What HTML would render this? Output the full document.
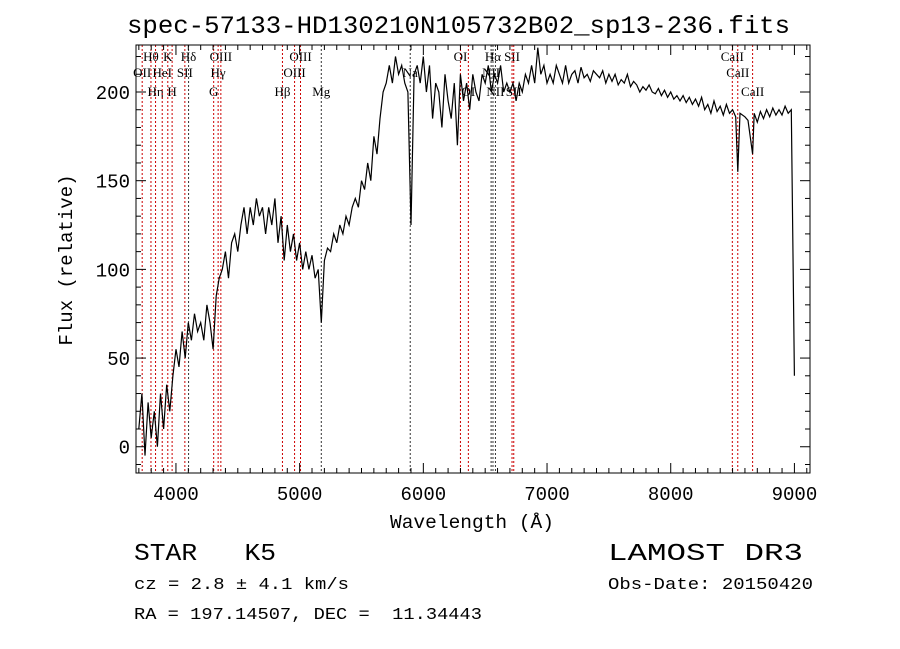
<!DOCTYPE html>
<html><head><meta charset="utf-8"><style>
body{margin:0;background:#fff;}
svg{display:block;}
.ax{font-family:"Liberation Mono",monospace;font-size:19px;fill:#000;}
.ll{font-family:"Liberation Serif",serif;font-size:13px;fill:#000;}
</style></head><body>
<svg id="c" width="900" height="649" viewBox="0 0 900 649">
<text x="127" y="33" textLength="663" lengthAdjust="spacingAndGlyphs" class="ax" style="font-size:25px">spec-57133-HD130210N105732B02_sp13-236.fits</text>
<g id="lines"></g>
<g id="spec"></g>
<rect x="136" y="45" width="674" height="428" fill="none" stroke="#000" stroke-width="1"/>
<g id="axes"></g>
<text x="390" y="528" textLength="164" lengthAdjust="spacingAndGlyphs" class="ax">Wavelength (Å)</text>
<text transform="translate(72,260) rotate(-90)" text-anchor="middle" class="ax">Flux (relative)</text>
<text x="134" y="560" textLength="142" lengthAdjust="spacingAndGlyphs" class="ax" style="font-size:24px" xml:space="preserve">STAR   K5</text>
<text x="608" y="560" textLength="195" lengthAdjust="spacingAndGlyphs" class="ax" style="font-size:24px">LAMOST DR3</text>
<text x="134" y="589" textLength="215" lengthAdjust="spacingAndGlyphs" class="ax" style="font-size:17px">cz = 2.8 ± 4.1 km/s</text>
<text x="608" y="589" textLength="205" lengthAdjust="spacingAndGlyphs" class="ax" style="font-size:17px">Obs-Date: 20150420</text>
<text x="134" y="619" textLength="348" lengthAdjust="spacingAndGlyphs" class="ax" style="font-size:17px" xml:space="preserve">RA = 197.14507, DEC =  11.34443</text>
</svg>
<script>
const wavelengths=[3700,3725,3750,3775,3800,3825,3850,3875,3900,3925,3950,3975,4000,4025,4050,4075,4100,4125,4150,4175,4200,4225,4250,4275,4300,4325,4350,4375,4400,4425,4450,4475,4500,4525,4550,4575,4600,4625,4650,4675,4700,4725,4750,4775,4800,4825,4850,4875,4900,4925,4950,4975,5000,5025,5050,5075,5100,5125,5150,5175,5200,5225,5250,5275,5300,5325,5350,5375,5400,5425,5450,5475,5500,5525,5550,5575,5600,5625,5650,5675,5700,5725,5750,5775,5800,5825,5850,5875,5900,5925,5950,5975,6000,6025,6050,6075,6100,6125,6150,6175,6200,6225,6250,6275,6300,6325,6350,6375,6400,6425,6450,6475,6500,6525,6550,6575,6600,6625,6650,6675,6700,6725,6750,6775,6800,6825,6850,6875,6900,6925,6950,6975,7000,7025,7050,7075,7100,7125,7150,7175,7200,7225,7250,7275,7300,7325,7350,7375,7400,7425,7450,7475,7500,7525,7550,7575,7600,7625,7650,7675,7700,7725,7750,7775,7800,7825,7850,7875,7900,7925,7950,7975,8000,8025,8050,8075,8100,8125,8150,8175,8200,8225,8250,8275,8300,8325,8350,8375,8400,8425,8450,8475,8500,8525,8542,8560,8600,8625,8662,8675,8700,8725,8750,8775,8800,8825,8850,8875,8900,8925,8950,8975,9000];
const fluxes=[10,30,-5,25,5,20,0,30,10,35,20,40,55,45,65,50,70,60,75,65,70,60,80,70,55,85,95,100,110,95,115,120,110,125,135,120,135,125,140,130,135,120,135,125,140,115,130,105,125,110,120,105,115,100,110,100,108,95,100,70,105,112,110,120,115,125,120,130,125,135,140,135,150,145,160,150,175,165,185,200,205,215,205,220,210,215,205,200,125,210,215,205,220,200,215,185,205,200,180,210,195,185,205,170,210,195,205,190,210,200,195,210,205,215,200,210,205,215,200,205,200,205,195,205,200,210,205,215,205,225,210,215,205,210,205,215,210,205,215,205,210,212,205,214,208,210,206,212,210,208,212,205,210,206,210,204,207,205,210,203,206,204,200,203,201,204,200,199,202,198,201,197,200,196,198,195,198,194,197,193,196,192,197,190,193,188,195,189,192,187,193,188,190,186,155,188,186,184,165,188,183,189,185,190,186,191,187,190,187,192,188,190,40];
const xTicks=[4000,5000,6000,7000,8000,9000];
const yTicks=[0,50,100,150,200];
const lineWaves=[3727,3798,3835,3889,3934,3969,4072,4102,4305,4341,4363,4861,4959,5007,5175,5894,6300,6364,6548,6563,6583,6717,6731,8498,8542,8662];
const lineLabels=["OII","Hθ","Hη","HeI","K","H","SII","Hδ","G","Hγ","OIII","Hβ","OIII","OIII","Mg","Na","OI","OI","NII","Hα","NII","SII","SII","CaII","CaII","CaII"];
const lineRows=[1,0,2,1,0,2,1,0,2,1,0,2,1,0,2,1,0,2,1,0,2,0,2,0,1,2];
const lineRed=[1,1,1,1,1,1,1,0,1,1,1,1,1,1,0,0,1,1,0,0,0,1,1,1,1,1];
const NS='http://www.w3.org/2000/svg';
const X0=136,X1=810,Y0=45,Y1=473;
const xMin=3677,xMax=9126,yMin=-14.8,yMax=226.5;
const sx=w=>X0+(w-xMin)/(xMax-xMin)*(X1-X0);
const sy=v=>Y1-(v-yMin)/(yMax-yMin)*(Y1-Y0);
function mk(t,a,p){const e=document.createElementNS(NS,t);for(const k in a)e.setAttribute(k,a[k]);p.appendChild(e);return e;}
const lg=document.getElementById('lines');
const rowY=[61,77,96];
lineWaves.forEach((w,i)=>{
  const l=mk('line',{x1:sx(w),x2:sx(w),y1:Y0,y2:Y1,stroke:lineRed[i]?'#c00':'#333','stroke-width':1,'stroke-dasharray':'2,2'},lg);
  
  
  const t=mk('text',{x:sx(w),y:rowY[lineRows[i]],'text-anchor':'middle',class:'ll'},lg);
  t.textContent=lineLabels[i];
  
  
});
const sg=document.getElementById('spec');
const d=wavelengths.map((w,i)=>(i?'L':'M')+sx(w).toFixed(1)+','+sy(fluxes[i]).toFixed(1)).join('');
const p=mk('path',{d:d,fill:'none',stroke:'#000','stroke-width':1.2},sg);


const ag=document.getElementById('axes');
for(let w=3700;w<=9100;w+=100){const x=sx(w);const big=w%1000===0;
  mk('line',{x1:x,x2:x,y1:Y1,y2:Y1-(big?10:5),stroke:'#000'},ag);
  mk('line',{x1:x,x2:x,y1:Y0,y2:Y0+(big?10:5),stroke:'#000'},ag);}
xTicks.forEach(w=>{const t=mk('text',{x:sx(w),y:500,'text-anchor':'middle',class:'ax'},ag);t.textContent=w;
  
  });
for(let v=-10;v<=220;v+=10){const y=sy(v);const big=v%50===0;
  mk('line',{x1:X0,x2:X0+(big?10:5),y1:y,y2:y,stroke:'#000'},ag);
  mk('line',{x1:X1,x2:X1-(big?10:5),y1:y,y2:y,stroke:'#000'},ag);}
yTicks.forEach(v=>{const t=mk('text',{x:130,y:sy(v)+7,'text-anchor':'end',class:'ax'},ag);t.textContent=v;
  
  });
</script>
</body></html>
